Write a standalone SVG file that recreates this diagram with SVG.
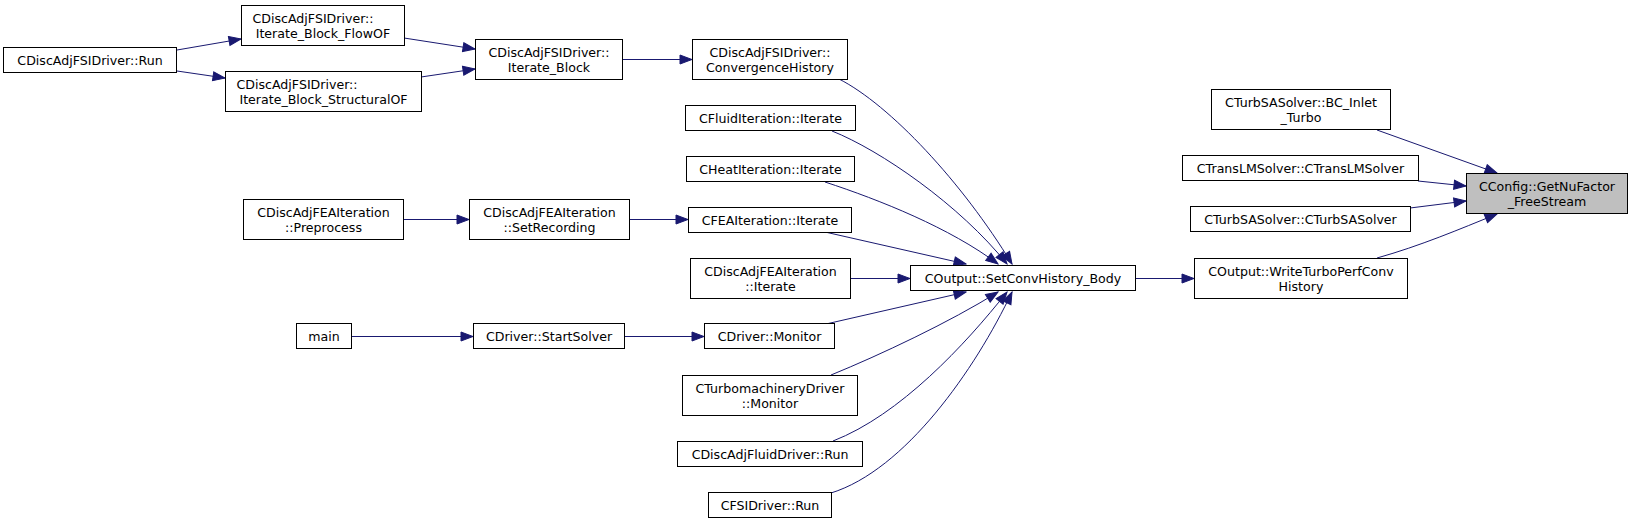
<svg xmlns="http://www.w3.org/2000/svg" width="1632" height="523" viewBox="0 0 1632 523">
<style>
.n rect{fill:#ffffff;stroke:#000000;stroke-width:1}
.n.root rect{fill:#bfbfbf}
.n text{font-family:"DejaVu Sans","Liberation Sans",sans-serif;font-size:12.6px;fill:#000000;text-anchor:middle}
.n text.l{text-anchor:start}
.e path{fill:none;stroke:#191970;stroke-width:1;marker-end:url(#ah)}
</style>
<defs>
<marker id="ah" markerUnits="userSpaceOnUse" viewBox="-1 -1 14 11" refX="12" refY="4.5" markerWidth="14" markerHeight="11" orient="auto">
<path d="M0,0 L12,4.5 L0,9 Z" fill="#191970" stroke="#191970" stroke-width="1"/>
</marker>
</defs>
<rect width="1632" height="523" fill="#ffffff"/>
<g id="edges" class="e">
<path d="M177,50 L241,39"/>
<path d="M177,71 L225,78"/>
<path d="M404,38 L475,49"/>
<path d="M421,77 L475,69"/>
<path d="M622.5,59.5 L692,59.5"/>
<path d="M839,79 C890,105 962,182 1012,264"/>
<path d="M832,131 C880,150 960,205 1007,264"/>
<path d="M825,182 C880,200 950,228 998,264"/>
<path d="M825,232 L966,264"/>
<path d="M851,278.5 L910,278.5"/>
<path d="M826,324 L966,292"/>
<path d="M831,375 C880,355 950,322 998,292"/>
<path d="M833,441 C900,415 965,345 1007,292"/>
<path d="M831,493 C905,470 975,370 1012,292"/>
<path d="M403.5,219.5 L469,219.5"/>
<path d="M629.5,219.5 L688,219.5"/>
<path d="M351.5,336.5 L473,336.5"/>
<path d="M624.5,336.5 L704,336.5"/>
<path d="M1135.5,278.5 L1194,278.5"/>
<path d="M1377,130 L1497,173"/>
<path d="M1418,181 L1466,186"/>
<path d="M1410,208 L1466,201"/>
<path d="M1377,258 C1420,246 1460,229 1497,214"/>
</g>
<g id="n_run" class="n"><rect x="3.5" y="47.5" width="173" height="25"/><text x="90" y="64.5">CDiscAdjFSIDriver::Run</text></g>
<g id="n_flowof" class="n"><rect x="241.5" y="5.5" width="163" height="40"/><text class="l" x="252.5" y="22.5">CDiscAdjFSIDriver::</text><text x="323" y="37.5">Iterate_Block_FlowOF</text></g>
<g id="n_structof" class="n"><rect x="225.5" y="71.5" width="196" height="40"/><text class="l" x="236.5" y="88.5">CDiscAdjFSIDriver::</text><text x="323.5" y="103.5">Iterate_Block_StructuralOF</text></g>
<g id="n_iterblock" class="n"><rect x="475.5" y="39.5" width="147" height="40"/><text x="549" y="56.5">CDiscAdjFSIDriver::</text><text x="549" y="71.5">Iterate_Block</text></g>
<g id="n_convhist" class="n"><rect x="692.5" y="39.5" width="155" height="40"/><text x="770" y="56.5">CDiscAdjFSIDriver::</text><text x="770" y="71.5">ConvergenceHistory</text></g>
<g id="n_fluiditer" class="n"><rect x="685.5" y="105.5" width="170" height="25"/><text x="770.5" y="122.5">CFluidIteration::Iterate</text></g>
<g id="n_heatiter" class="n"><rect x="686.5" y="156.5" width="168" height="25"/><text x="770.5" y="173.5">CHeatIteration::Iterate</text></g>
<g id="n_feaiter" class="n"><rect x="688.5" y="207.5" width="163" height="25"/><text x="770" y="224.5">CFEAIteration::Iterate</text></g>
<g id="n_dafeaiter" class="n"><rect x="690.5" y="258.5" width="160" height="40"/><text x="770.5" y="275.5">CDiscAdjFEAIteration</text><text x="770.5" y="290.5">::Iterate</text></g>
<g id="n_preprocess" class="n"><rect x="243.5" y="199.5" width="160" height="40"/><text x="323.5" y="216.5">CDiscAdjFEAIteration</text><text x="323.5" y="231.5">::Preprocess</text></g>
<g id="n_setrec" class="n"><rect x="469.5" y="199.5" width="160" height="40"/><text x="549.5" y="216.5">CDiscAdjFEAIteration</text><text x="549.5" y="231.5">::SetRecording</text></g>
<g id="n_main" class="n"><rect x="296.5" y="323.5" width="55" height="25"/><text x="324" y="340.5">main</text></g>
<g id="n_startsolver" class="n"><rect x="473.5" y="323.5" width="151" height="25"/><text x="549" y="340.5">CDriver::StartSolver</text></g>
<g id="n_drvmonitor" class="n"><rect x="704.5" y="323.5" width="130" height="25"/><text x="769.5" y="340.5">CDriver::Monitor</text></g>
<g id="n_turbomonitor" class="n"><rect x="682.5" y="375.5" width="175" height="40"/><text x="770" y="392.5">CTurbomachineryDriver</text><text x="770" y="407.5">::Monitor</text></g>
<g id="n_dafluidrun" class="n"><rect x="677.5" y="441.5" width="185" height="25"/><text x="770" y="458.5">CDiscAdjFluidDriver::Run</text></g>
<g id="n_fsirun" class="n"><rect x="708.5" y="492.5" width="123" height="25"/><text x="770" y="509.5">CFSIDriver::Run</text></g>
<g id="n_setconv" class="n"><rect x="910.5" y="265.5" width="225" height="25"/><text x="1023" y="282.5">COutput::SetConvHistory_Body</text></g>
<g id="n_writeturbo" class="n"><rect x="1194.5" y="258.5" width="213" height="40"/><text x="1301" y="275.5">COutput::WriteTurboPerfConv</text><text x="1301" y="290.5">History</text></g>
<g id="n_bcinlet" class="n"><rect x="1211.5" y="89.5" width="179" height="40"/><text x="1301" y="106.5">CTurbSASolver::BC_Inlet</text><text x="1301" y="121.5">_Turbo</text></g>
<g id="n_translm" class="n"><rect x="1182.5" y="155.5" width="236" height="25"/><text x="1300.5" y="172.5">CTransLMSolver::CTransLMSolver</text></g>
<g id="n_turbsa" class="n"><rect x="1190.5" y="206.5" width="220" height="25"/><text x="1300.5" y="223.5">CTurbSASolver::CTurbSASolver</text></g>
<g id="n_getnufactor" class="n root"><rect x="1466.5" y="173.5" width="161" height="40"/><text x="1547" y="190.5">CConfig::GetNuFactor</text><text x="1547" y="205.5">_FreeStream</text></g>
</svg>
